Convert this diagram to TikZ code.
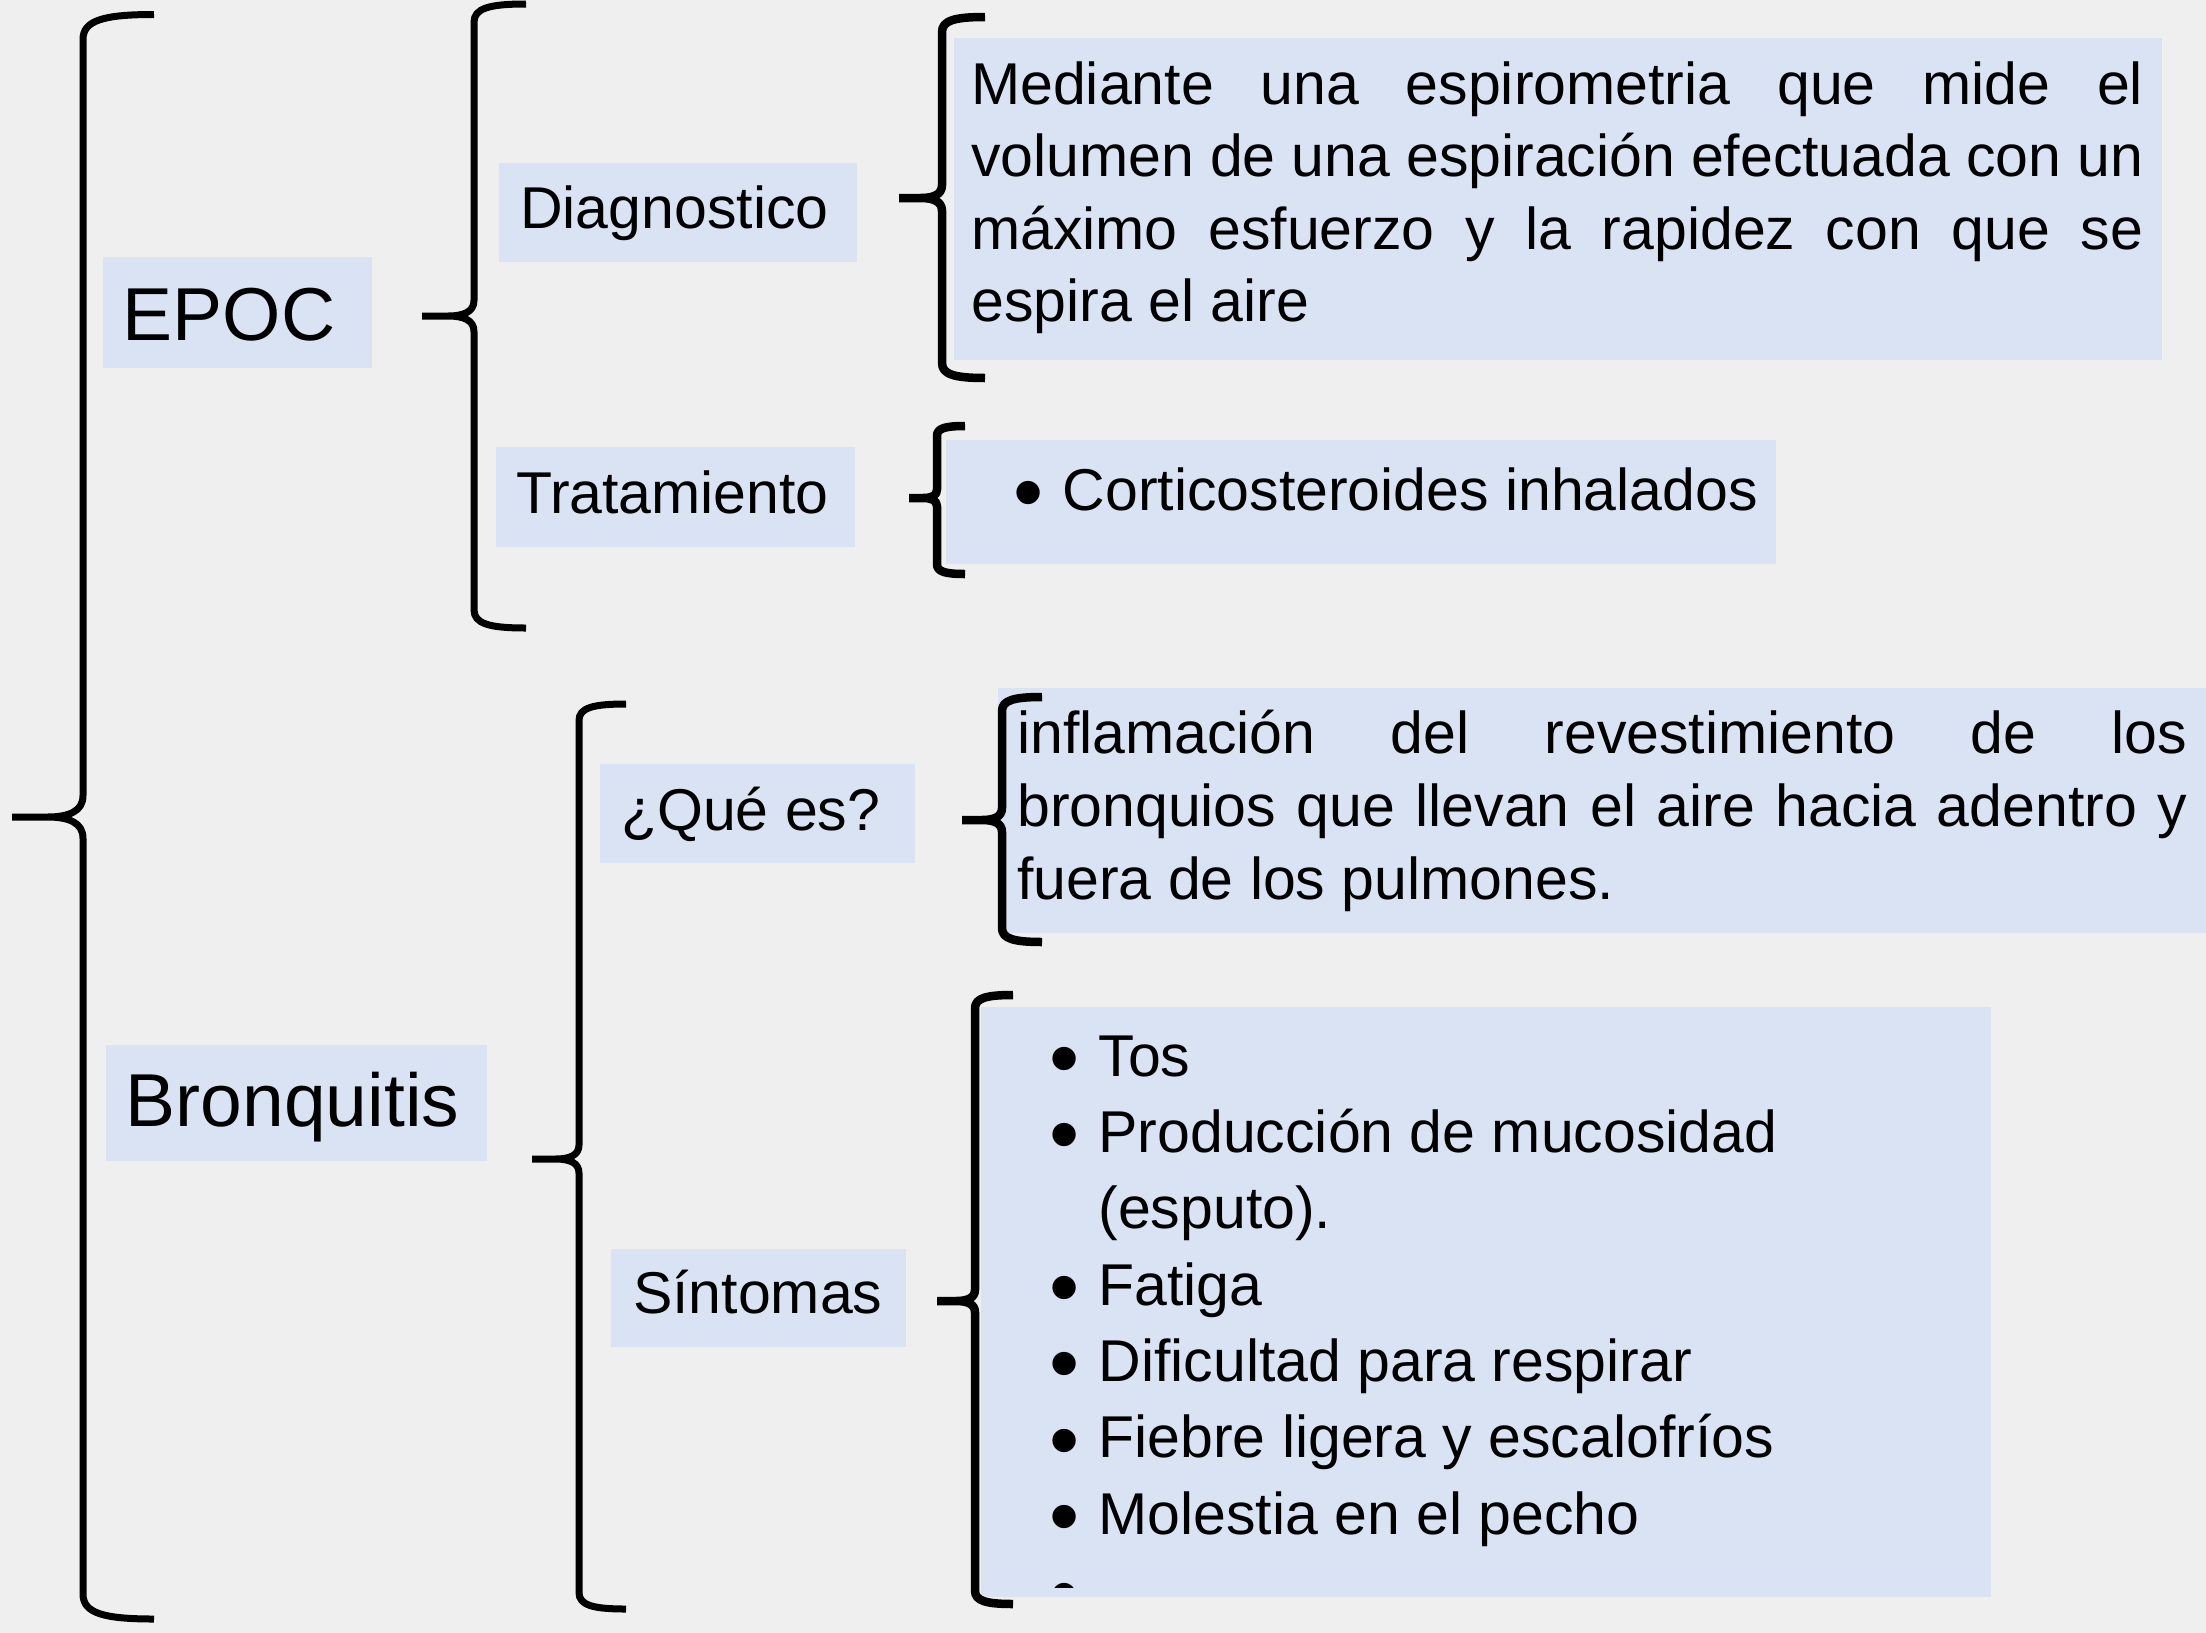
\documentclass[tikz,border=0pt]{standalone}
\usepackage{fontspec}
\setmainfont{Liberation Sans}
\definecolor{bg}{HTML}{EFEFEF}
\definecolor{boxblue}{HTML}{DAE3F3}
\newcommand\mybrace[6]{%
 \draw[line width=#6pt, line cap=butt, line join=round]
 ({#1+#5},{#2}) .. controls ({#1+0.3*#5},{#2}) and ({#1},{#2+0.08*#5}) .. ({#1},{#2+0.35*#5})
 -- ({#1},{#3-0.3*#5}) .. controls ({#1},{#3-0.08*#5}) and ({#1-0.2*#5},{#3}) .. ({#1-0.5*#5},{#3}) -- ({#1-#5},{#3})
 ({#1-#5},{#3}) -- ({#1-0.5*#5},{#3}) .. controls ({#1-0.2*#5},{#3}) and ({#1},{#3+0.08*#5}) .. ({#1},{#3+0.3*#5})
 -- ({#1},{#4-0.35*#5}) .. controls ({#1},{#4-0.08*#5}) and ({#1+0.3*#5},{#4}) .. ({#1+#5},{#4});}
\newcommand\bul{\makebox[48.8pt][l]{\smash{\raisebox{-11.4pt}{\fontsize{86pt}{86pt}\selectfont •}}}}
\tikzset{
 box/.style={fill=boxblue, inner sep=0pt, anchor=north west},
 lbl/.style={font=\fontsize{59pt}{59pt}\selectfont},
 big/.style={font=\fontsize{75pt}{75pt}\selectfont}}
\begin{document}
\begin{tikzpicture}[x=1pt,y=-1pt]
\fill[bg] (0,0) rectangle (2206,1633);
\useasboundingbox (0,0) rectangle (2206,1633);
% main labels
\node[box, big, text height=83pt, text depth=28pt] (epoc) at (103,257) {\makebox[269pt][l]{\hspace{19.5pt}EPOC}};
\node[box, big, text height=81.5pt, text depth=34.5pt] (bronq) at (106,1045) {\makebox[381pt][l]{\hspace{19.5pt}Bronquitis}};
% second level
\node[box, lbl, text height=65pt, text depth=34pt] (diag) at (499,163) {\makebox[358pt][l]{\hspace{21pt}Diagnostico}};
\node[box, lbl, text height=66pt, text depth=34pt] (trat) at (496,447) {\makebox[359pt][l]{\hspace{20pt}Tratamiento}};
\node[box, lbl, text height=66.5pt, text depth=32.5pt] (que) at (600,764) {\makebox[315pt][l]{\hspace{21pt}¿Qué es?}};
\node[box, lbl, text height=64pt, text depth=34pt] (sint) at (611,1249) {\makebox[295pt][l]{\hspace{22pt}Síntomas}};
% third level
\node[box, lbl, text height=66pt, text depth=256pt] (diagtxt) at (954,38) {\makebox[1208pt][l]{\hspace{17pt}\parbox[t]{1172pt}{\fontsize{59pt}{72.5pt}\selectfont
\makebox[1172pt][s]{Mediante una espirometria que mide el}\\
\makebox[1172pt][s]{volumen de una espiración efectuada con un}\\
\makebox[1172pt][s]{máximo esfuerzo y la rapidez con que se}\\
espira el aire}}};
\node[box, lbl, text height=70pt, text depth=54pt] (trattxt) at (946,440) {\makebox[830pt][l]{\hspace{67.7pt}\bul Corticosteroides inhalados}};
\node[box, lbl, text height=65pt, text depth=180pt] (quetxt) at (998,688) {\makebox[1220pt][l]{\hspace{19pt}\parbox[t]{1170pt}{\fontsize{59pt}{73pt}\selectfont
\makebox[1170pt][s]{inflamación del revestimiento de los}\\
\makebox[1170pt][s]{bronquios que llevan el aire hacia adentro y}\\
fuera de los pulmones.}}};
\node[box, lbl, text height=69pt, text depth=521pt] (sinttxt) at (981,1007) {\makebox[1010pt][l]{\hspace{68.5pt}\parbox[t]{900pt}{\fontsize{59pt}{76.3pt}\selectfont
\bul Tos\\
\bul Producción de mucosidad\\
\hspace*{48.8pt}(esputo).\\
\bul Fatiga\\
\bul Dificultad para respirar\\
\bul Fiebre ligera y escalofríos\\
\bul Molestia en el pecho}}};
\begin{scope}
\clip (981,1007) rectangle (1991,1587.5);
\node[lbl, anchor=base west, inner sep=0pt] (sintcut) at (1049.5,1612) {\bul};
\end{scope}
% braces
\mybrace{83}{14.5}{817}{1619}{71}{7}
\mybrace{474}{4}{316}{628}{52}{7}
\mybrace{579}{704}{1159}{1609}{47}{7}
\mybrace{942}{17}{198}{378}{43}{8.5}
\mybrace{937}{426}{498}{574}{28}{8.5}
\mybrace{1002}{697}{820}{942}{40}{8.5}
\mybrace{975}{995}{1301}{1604}{38}{8.5}
\end{tikzpicture}
\end{document}
